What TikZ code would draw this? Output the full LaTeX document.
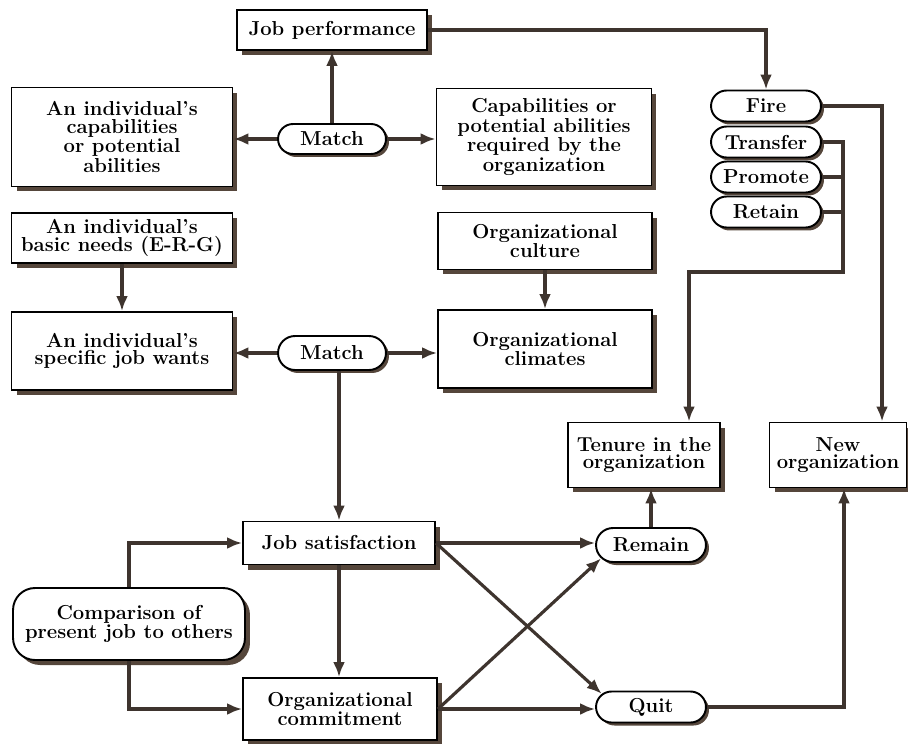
\documentclass[tikz,border=0pt]{standalone}
\usepackage{tikz}
\usetikzlibrary{arrows.meta, shapes.misc, shadows, calc}
\definecolor{ink}{HTML}{3E342E}
\definecolor{shade}{HTML}{55463B}

\begin{document}
\begin{tikzpicture}[x=0.02cm, y=-0.02cm,
    font=\fontsize{11.5}{10}\selectfont\bfseries,
    box/.style={draw=black, line width=1.1pt, fill=white, align=center, inner sep=2pt,
        drop shadow={shadow xshift=0.1cm, shadow yshift=-0.1cm, fill=shade, opacity=1}},
    pill/.style={rounded rectangle, draw=black, line width=1.1pt, fill=white, align=center,
        inner sep=2pt, minimum width=2.34cm, minimum height=0.62cm,
        drop shadow={shadow xshift=0.06cm, shadow yshift=-0.06cm, fill=shade, opacity=1}},
    arr/.style={draw=ink, line width=1.8pt, -{Latex[length=0.3cm, width=0.24cm]}},
    link/.style={draw=ink, line width=1.8pt}]
    \useasboundingbox (0,0) rectangle (908,743);

    % Abilities
    \node[box, minimum width=3.8cm, minimum height=0.8cm] (jp) at (332,30) {Job performance};
    \node[box, minimum width=4.42cm, minimum height=1.98cm] (cap) at (122,137) {An individual's\\capabilities\\or potential\\abilities};
    \node[pill, minimum width=2.3cm, minimum height=0.6cm] (match1) at (332,139) {Match};
    \node[box, minimum width=4.3cm, minimum height=1.94cm] (req) at (544,137) {Capabilities or\\potential abilities\\required by the\\organization};

    % Needs
    \node[box, minimum width=4.42cm, minimum height=1.0cm] (basic) at (122,238) {An individual's\\basic needs (E-R-G)};
    \node[box, minimum width=4.42cm, minimum height=1.56cm] (wants) at (122,351) {An individual's\\specific job wants};
    \node[pill, minimum width=2.3cm, minimum height=0.68cm] (match2) at (332,353) {Match};
    \node[box, minimum width=4.28cm, minimum height=1.14cm] (culture) at (545,241) {Organizational\\culture};
    \node[box, minimum width=4.28cm, minimum height=1.56cm] (climate) at (545,349) {Organizational\\climates};

    % Attitudes
    \node[box, minimum width=3.84cm, minimum height=0.86cm] (js) at (339,543) {Job satisfaction};
    \node[box, minimum width=3.88cm, minimum height=1.24cm] (oc) at (340,709) {Organizational\\commitment};
    \node[box, rounded corners=0.44cm, minimum width=4.64cm, minimum height=1.44cm] (comp) at (129,624) {Comparison of\\present job to others};

    % Outcomes
    \node[pill] (fire) at (766,106) {Fire};
    \node[pill] (transfer) at (766,142) {Transfer};
    \node[pill] (promote) at (766,177) {Promote};
    \node[pill] (retain) at (766,212) {Retain};
    \node[box, minimum width=3.04cm, minimum height=1.3cm] (tenure) at (644,455) {Tenure in the\\organization};
    \node[box, minimum width=2.74cm, minimum height=1.3cm] (neworg) at (838,455) {New\\organization};
    \node[pill, minimum height=0.68cm] (remain) at (651,545) {Remain};
    \node[pill] (quit) at (651,707) {Quit};
    \coordinate (bend) at (843,272);

    % Arrows
    \draw[arr] (match1.north) -- (jp.south);
    \draw[arr] (match1.west) -- (match1.west -| cap.east);
    \draw[arr] (match1.east) -- (match1.east -| req.west);
    \draw[arr] (jp.east) -| (fire.north);
    \draw[arr] (fire.east) -| ($(neworg.north)+(44,0)$);
    \draw[arr] (transfer.east) -| (bend) -| ($(tenure.north)+(45,0)$);
    \draw[link] (promote.east) -- (promote.east -| bend);
    \draw[link] (retain.east) -- (retain.east -| bend);

    \draw[arr] (basic.south) -- (wants.north);
    \draw[arr] (culture.south) -- (climate.north);
    \draw[arr] (match2.west) -- (match2.west -| wants.east);
    \draw[arr] (match2.east) -- (match2.east -| climate.west);
    \draw[arr] (match2.south -| js.north) -- (js.north);
    \draw[arr] (js.south) -- (js.south |- oc.north);
    \draw[arr] (comp.north) |- (js.west);
    \draw[arr] (comp.south) |- (oc.west);

    \draw[arr] (js.east) -- (js.east -| remain.west);
    \draw[arr] (js.east) -- (quit.165);
    \draw[arr] (oc.east) -- (remain.195);
    \draw[arr] (oc.east) -- (oc.east -| quit.west);
    \draw[arr] (remain.north) -- (remain.north |- tenure.south);
    \draw[arr] (quit.east) -| ($(neworg.south)+(6,0)$);
\end{tikzpicture}
\end{document}
